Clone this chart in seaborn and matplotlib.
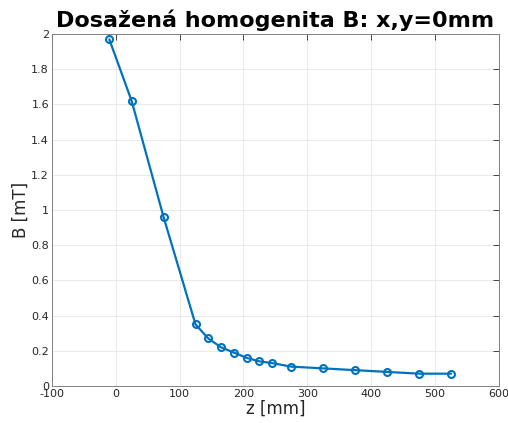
import matplotlib
matplotlib.use("Agg")
import matplotlib.pyplot as plt
import seaborn as sns
import pandas as pd

z_mm = [-10, 25, 75, 125, 145, 165, 185, 205, 225, 245, 275, 325, 375, 425, 475, 525]
B_mT = [1.97, 1.62, 0.96, 0.35, 0.27, 0.22, 0.19, 0.16, 0.14, 0.13, 0.11, 0.10, 0.09, 0.08, 0.07, 0.07]
x_ticks = [-100, 0, 100, 200, 300, 400, 500, 600]
y_ticks = [0, 0.2, 0.4, 0.6, 0.8, 1, 1.2, 1.4, 1.6, 1.8, 2]
y_tick_labels = ["0", "0.2", "0.4", "0.6", "0.8", "1", "1.2", "1.4", "1.6", "1.8", "2"]

sns.set_style("white")
plt.rcParams['font.family'] = ['DejaVu Sans']

df = pd.DataFrame({"z": z_mm, "B": B_mT})

fig = plt.figure(figsize=(5.08, 4.23), dpi=100)
ax = fig.add_axes([0.102, 0.0875, 0.880, 0.832])
color = "#0072BD"
sns.lineplot(data=df, x="z", y="B", ax=ax, color=color, linewidth=1.6,
             marker="o", markersize=5, markerfacecolor="none",
             markeredgecolor=color, markeredgewidth=1.5)

ax.set_xlim(-100, 600)
ax.set_ylim(0, 2)
ax.set_xticks(x_ticks)
ax.set_xticklabels([str(t) for t in x_ticks])
ax.set_yticks(y_ticks)
ax.set_yticklabels(y_tick_labels)
ax.grid(True, color="#e6e6e6", linewidth=0.6)
ax.set_axisbelow(True)
for s in ax.spines.values():
    s.set_visible(True)
    s.set_color("#808080")
    s.set_linewidth(0.7)
ax.tick_params(direction="in", length=4, width=0.6, colors="#262626",
               labelsize=8, top=True, right=True, pad=2)
for t in ax.get_xticklabels() + ax.get_yticklabels():
    t.set_color("#262626")
ax.set_xlabel("z [mm]", fontsize=12, color="#262626", labelpad=1)
ax.set_ylabel("B [mT]", fontsize=12, color="#262626", labelpad=1)
ax.set_title("Dosažená homogenita B: x,y=0mm", fontsize=16, fontweight="bold",
             color="black", pad=5)

fig.savefig("out.png", dpi=100, facecolor="white")
